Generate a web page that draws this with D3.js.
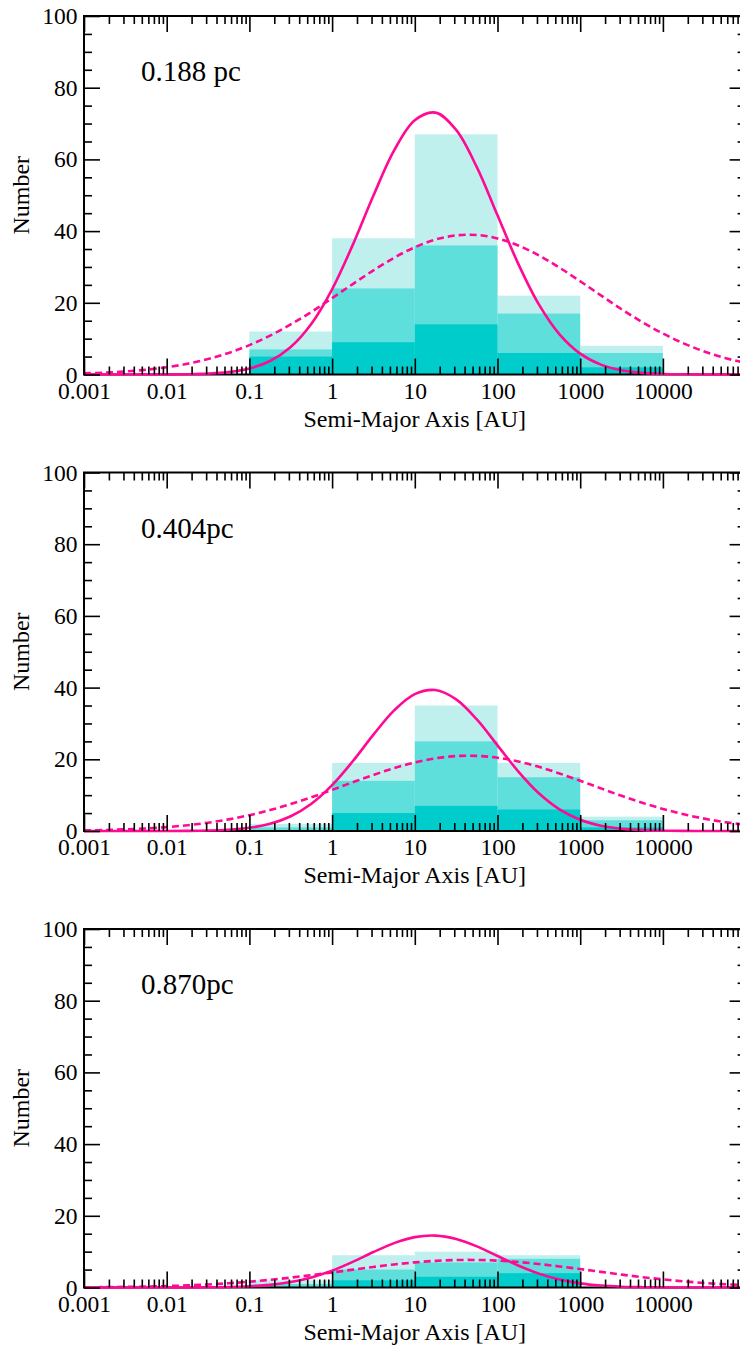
<!DOCTYPE html>
<html><head><meta charset="utf-8">
<script src="https://cdn.jsdelivr.net/npm/d3@7"></script>
<style>
body{margin:0;background:#fff}
svg{display:block;background:#fff}
svg text{font-family:'Liberation Serif','Times New Roman',Times,serif}
</style>
</head><body>
<svg id="c" width="740" height="1347"></svg>
<script>
// ---------------- DATA ----------------
const panelLabels = ["0.188 pc", "0.404pc", "0.870pc"];
const binLo = [0.1, 1, 10, 100, 1000];
const binHi = [1, 10, 100, 1000, 10000];
// overlapping histograms (all / subset / inner subset)
const countsAll1 = [12, 38, 67, 22, 8];
const countsMid1 = [7, 24, 36, 17, 6];
const countsIn1  = [5, 9, 14, 6, 2];
const countsAll2 = [2, 19, 35, 19, 4];
const countsMid2 = [1, 14, 25, 15, 3];
const countsIn2  = [0, 5, 7, 6, 1];
const countsAll3 = [2, 9, 10, 9, 0];
const countsMid3 = [1, 5, 7, 8, 0];
const countsIn3  = [0, 2, 3, 4, 0];
// curve samples (log10 of semi-major axis)
const logA = [-3,-2.75,-2.5,-2.25,-2,-1.75,-1.5,-1.25,-1,-0.75,-0.5,-0.25,0,0.25,0.5,0.75,1,1.25,1.5,1.75,2,2.25,2.5,2.75,3,3.25,3.5,3.75,4,4.25,4.5,4.75,5];
const solid1 = [0,0,0,0.01,0.02,0.08,0.25,0.67,1.67,3.76,7.66,14.16,23.77,36.16,49.92,62.51,70.93,73.05,68.22,57.83,44.40,30.93,19.54,11.20,5.83,2.75,1.17,0.45,0.16,0.05,0.01,0,0];
const dashed1 = [0.32,0.53,0.85,1.33,2.02,2.99,4.30,6.02,8.19,10.84,13.96,17.47,21.29,25.23,29.06,32.57,35.49,37.64,38.81,38.92,37.95,36.00,33.23,29.80,26.01,22.07,18.21,14.63,11.43,8.68,6.42,4.61,3.22];
const solid2 = [0,0,0,0,0.01,0.04,0.13,0.36,0.90,2.02,4.12,7.62,12.79,19.46,26.87,33.65,38.18,39.32,36.72,31.13,23.90,16.65,10.52,6.03,3.14,1.48,0.63,0.24,0.09,0.03,0.01,0,0];
const dashed2 = [0.17,0.28,0.46,0.71,1.09,1.61,2.32,3.24,4.41,5.84,7.52,9.41,11.47,13.59,15.65,17.54,19.11,20.27,20.90,20.96,20.43,19.38,17.89,16.04,14.01,11.89,9.81,7.88,6.15,4.67,3.45,2.48,1.73];
const solid3 = [0,0,0,0,0,0.02,0.05,0.13,0.33,0.74,1.52,2.80,4.71,7.16,9.89,12.38,14.05,14.47,13.51,11.46,8.79,6.13,3.87,2.22,1.15,0.54,0.23,0.09,0.03,0.01,0,0,0];
const dashed3 = [0.06,0.10,0.17,0.26,0.40,0.59,0.85,1.19,1.62,2.14,2.76,3.45,4.20,4.98,5.74,6.43,7.01,7.43,7.66,7.68,7.49,7.11,6.56,5.88,5.14,4.36,3.60,2.89,2.26,1.71,1.27,0.91,0.64];
const xTickValues = [0.001, 0.01, 0.1, 1, 10, 100, 1000, 10000];
const xTickLabels = ["0.001", "0.01", "0.1", "1", "10", "100", "1000", "10000"];
const yTickValues = [0, 20, 40, 60, 80, 100];
const yTickLabels = ["0", "20", "40", "60", "80", "100"];
const yMinorValues = [5,10,15,25,30,35,45,50,55,65,70,75,85,90,95];
const xTitle = "Semi-Major Axis [AU]";
const yTitle = "Number";

// ---------------- LAYOUT ----------------
const FONT = "'Liberation Serif','Times New Roman',Times,serif";
const colAll = "#c0f0ee", colMid = "#5fdfdc", colIn = "#00cccc";
const pink = "#ff0a94";
const L = 84, R = 745.6;
const tops = [16, 472.5, 929];
const H = 358.5;

const panels = [
  {label: panelLabels[0], all: countsAll1, mid: countsMid1, inner: countsIn1, solid: solid1, dashed: dashed1},
  {label: panelLabels[1], all: countsAll2, mid: countsMid2, inner: countsIn2, solid: solid2, dashed: dashed2},
  {label: panelLabels[2], all: countsAll3, mid: countsMid3, inner: countsIn3, solid: solid3, dashed: dashed3}
];

const svg = d3.select("#c");
svg.append("rect").attr("width", 740).attr("height", 1347).attr("fill", "#fff");

const x = d3.scaleLog().domain([1e-3, 1e5]).range([L, R]);
const xMinor = x.ticks().filter(v => !xTickValues.some(t => Math.abs(t - v) / t < 1e-6) && Math.abs(v - 1e5) / 1e5 > 1e-6);

panels.forEach((p, pi) => {
  const top = tops[pi];
  const y = d3.scaleLinear().domain([0, 100]).range([top + H, top]);
  const g = svg.append("g");
  const clipId = "clip" + pi;
  svg.append("clipPath").attr("id", clipId).append("rect")
    .attr("x", L).attr("y", top - 3).attr("width", R - L).attr("height", H + 6);

  // bars
  [[p.all, colAll], [p.mid, colMid], [p.inner, colIn]].forEach(([vals, col]) => {
    g.append("g").selectAll("rect").data(vals).join("rect")
      .attr("x", (d, i) => x(binLo[i]))
      .attr("width", (d, i) => x(binHi[i]) - x(binLo[i]))
      .attr("y", d => y(d))
      .attr("height", d => y(0) - y(d))
      .attr("fill", col);
  });

  // frame
  g.append("rect").attr("x", L).attr("y", top).attr("width", R - L).attr("height", H)
    .attr("fill", "none").attr("stroke", "#000").attr("stroke-width", 2);

  // curves
  const line = d3.line().x(d => x(Math.pow(10, d[0]))).y(d => y(d[1])).curve(d3.curveCatmullRom);
  const cg = g.append("g").attr("clip-path", `url(#${clipId})`);
  cg.append("path").attr("d", line(logA.map((v, i) => [v, p.dashed[i]])))
    .attr("fill", "none").attr("stroke", pink).attr("stroke-width", 2.6).attr("stroke-dasharray", "7,4");
  cg.append("path").attr("d", line(logA.map((v, i) => [v, p.solid[i]])))
    .attr("fill", "none").attr("stroke", pink).attr("stroke-width", 2.6);

  // axes (inward ticks)
  const styleAxis = sel => {
    sel.select(".domain").remove();
    sel.selectAll("line").attr("stroke", "#000").attr("stroke-width", 1.6);
    sel.attr("font-family", FONT).attr("font-size", 23.5);
    sel.selectAll("text").attr("fill", "#000").style("font-family", FONT);
  };
  g.append("g").attr("transform", `translate(0,${top + H})`)
    .call(d3.axisBottom(x).tickValues(xTickValues).tickSize(-16).tickPadding(7.5)
      .tickFormat((d, i) => xTickLabels[i])).call(styleAxis);
  g.append("g").attr("transform", `translate(0,${top + H})`)
    .call(d3.axisBottom(x).tickValues(xMinor).tickSize(-8).tickFormat("")).call(styleAxis);
  g.append("g").attr("transform", `translate(0,${top})`)
    .call(d3.axisTop(x).tickValues(xTickValues.concat([1e5])).tickSize(-16).tickFormat("")).call(styleAxis);
  g.append("g").attr("transform", `translate(0,${top})`)
    .call(d3.axisTop(x).tickValues(xMinor).tickSize(-8).tickFormat("")).call(styleAxis);
  g.append("g").attr("transform", `translate(${L},0)`)
    .call(d3.axisLeft(y).tickValues(yTickValues).tickSize(-16).tickPadding(6.5)
      .tickFormat((d, i) => yTickLabels[i])).call(styleAxis);
  g.append("g").attr("transform", `translate(${L},0)`)
    .call(d3.axisLeft(y).tickValues(yMinorValues).tickSize(-8).tickFormat("")).call(styleAxis);
  g.append("g").attr("transform", `translate(${R},0)`)
    .call(d3.axisRight(y).tickValues(yTickValues).tickSize(-16).tickFormat("")).call(styleAxis);
  g.append("g").attr("transform", `translate(${R},0)`)
    .call(d3.axisRight(y).tickValues(yMinorValues).tickSize(-8).tickFormat("")).call(styleAxis);

  // titles
  g.append("text").attr("x", (L + R) / 2).attr("y", top + H + 52)
    .attr("text-anchor", "middle").style("font-family", FONT).attr("font-size", 24)
    .text(xTitle);
  g.append("text").attr("transform", `translate(29,${top + H / 2}) rotate(-90)`)
    .attr("text-anchor", "middle").style("font-family", FONT).attr("font-size", 24)
    .text(yTitle);
  g.append("text").attr("x", 141).attr("y", top + 65)
    .style("font-family", FONT).attr("font-size", 29).text(p.label);
});
</script>
</body></html>
